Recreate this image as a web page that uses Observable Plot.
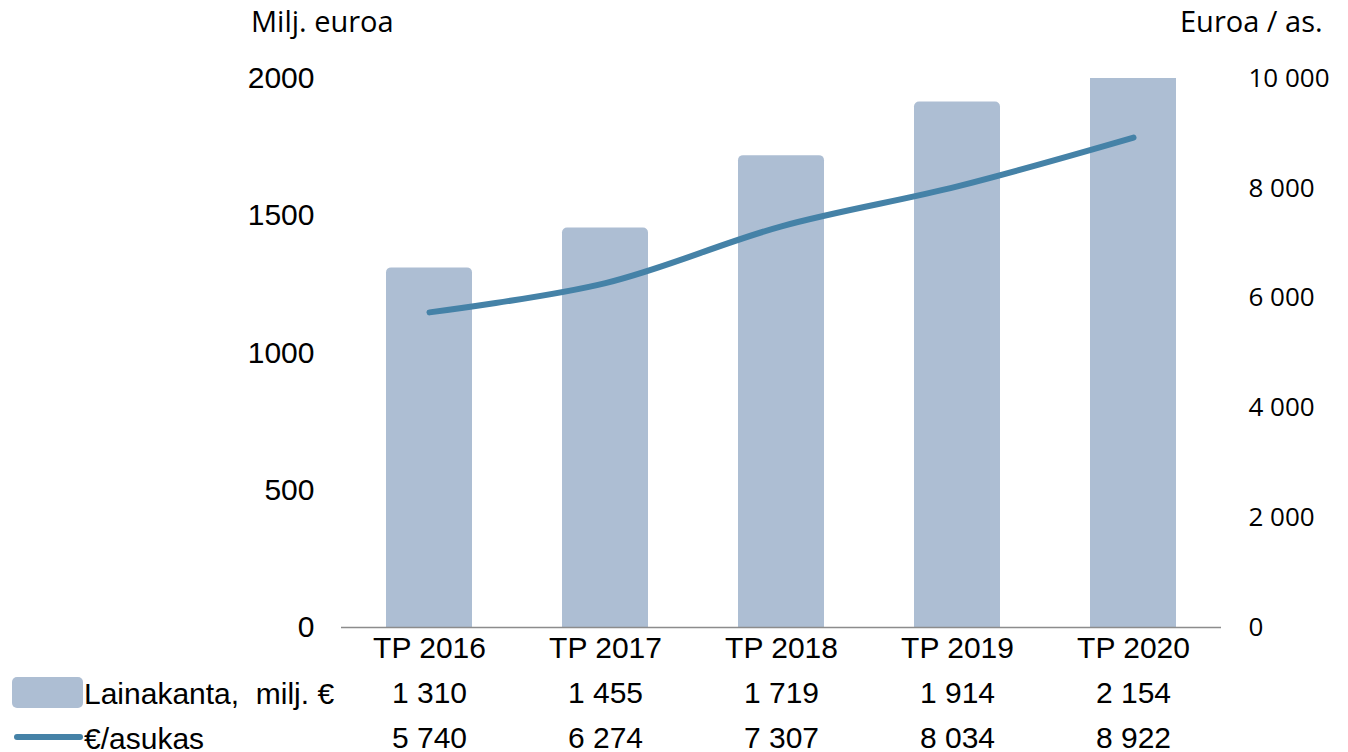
<!DOCTYPE html>
<html><head><meta charset="utf-8">
<script src="https://cdn.jsdelivr.net/npm/d3@7"></script>
<script src="https://cdn.jsdelivr.net/npm/@observablehq/plot@0.6"></script>
<style>body{margin:0;background:#fff;} svg{display:block}</style>
</head><body><div id="chart"></div>
<script>
const years = ["TP 2016","TP 2017","TP 2018","TP 2019","TP 2020"];
const loanStock = [1310,1455,1719,1914,2154];
const perCapita = [5740,6274,7307,8034,8922];
const leftTicks = [0,500,1000,1500,2000];
const rightTicks = [0,2000,4000,6000,8000,10000];
const seriesNames = ["Lainakanta,  milj. €","€/asukas"];
const axisTitles = ["Milj. euroa","Euroa / as."];

const barColor = "#adbed3";
const lineColor = "#4582a7";
const data = years.map((y,i)=>({year:y, loan:loanStock[i], perCap:perCapita[i]}));
const ratio = 10000/2000;
const fmt = d3.formatLocale({thousands:" ", grouping:[3], decimal:",", currency:["","€"]}).format(",");

const plot = Plot.plot({
  width:1348, height:752,
  marginLeft:341, marginRight:127, marginTop:78, marginBottom:125,
  style:{fontFamily:"'Liberation Sans', Arial, sans-serif", fontSize:"30px", color:"#000", background:"#fff", overflow:"visible"},
  x:{domain:years, paddingInner:0.51, paddingOuter:0.255, axis:null},
  y:{domain:[0,2000], axis:null},
  marks:[
    Plot.barY(data,{x:"year", y:"loan", fill:barColor, rx:5, insetBottom:-8, clip:true}),
    Plot.ruleY([0],{stroke:"#8c8c8c", strokeWidth:1.5}),
    Plot.line(data,{x:"year", y:d=>d.perCap/ratio, stroke:lineColor, strokeWidth:6, curve:"catmull-rom", strokeLinecap:"round"}),
    Plot.axisY({ticks:leftTicks, tickSize:0, tickPadding:27, tickFormat:d=>String(d), label:null, fontSize:30}),
    Plot.axisY({anchor:"right", ticks:rightTicks.map(v=>v/ratio), tickSize:0, tickPadding:27, tickFormat:d=>fmt(Math.round(d*ratio)), label:null, fontFamily:"'Open Sans', sans-serif", fontSize:26}),
    Plot.text(data,{x:"year", text:"year", frameAnchor:"bottom", dy:21, lineAnchor:"middle"}),
    Plot.text(data,{x:"year", text:d=>fmt(d.loan), frameAnchor:"bottom", dy:66, lineAnchor:"middle"}),
    Plot.text(data,{x:"year", text:d=>fmt(d.perCap), frameAnchor:"bottom", dy:111, lineAnchor:"middle"})
  ]
});

const svg = d3.select(plot);
const g = svg.append("g").attr("text-anchor","start");
g.append("rect").attr("x",12).attr("y",677).attr("width",71).attr("height",31).attr("rx",5).attr("fill",barColor);
g.append("line").attr("x1",17).attr("x2",80).attr("y1",737).attr("y2",737).attr("stroke",lineColor).attr("stroke-width",6).attr("stroke-linecap","round");
g.append("text").attr("x",84).attr("y",693).attr("dy","0.35em").attr("font-size",30).attr("text-anchor","start").text(seriesNames[0]);
g.append("text").attr("x",84).attr("y",738).attr("dy","0.35em").attr("font-size",30).attr("text-anchor","start").text(seriesNames[1]);
g.append("text").attr("x",251).attr("y",22).attr("dy","0.35em").attr("font-size",29).attr("font-family","'Open Sans', sans-serif").attr("text-anchor","start").text(axisTitles[0]);
g.append("text").attr("x",1180).attr("y",22).attr("dy","0.35em").attr("font-size",29).attr("font-family","'Open Sans', sans-serif").attr("text-anchor","start").text(axisTitles[1]);

document.getElementById("chart").appendChild(plot);
</script>
</body></html>
